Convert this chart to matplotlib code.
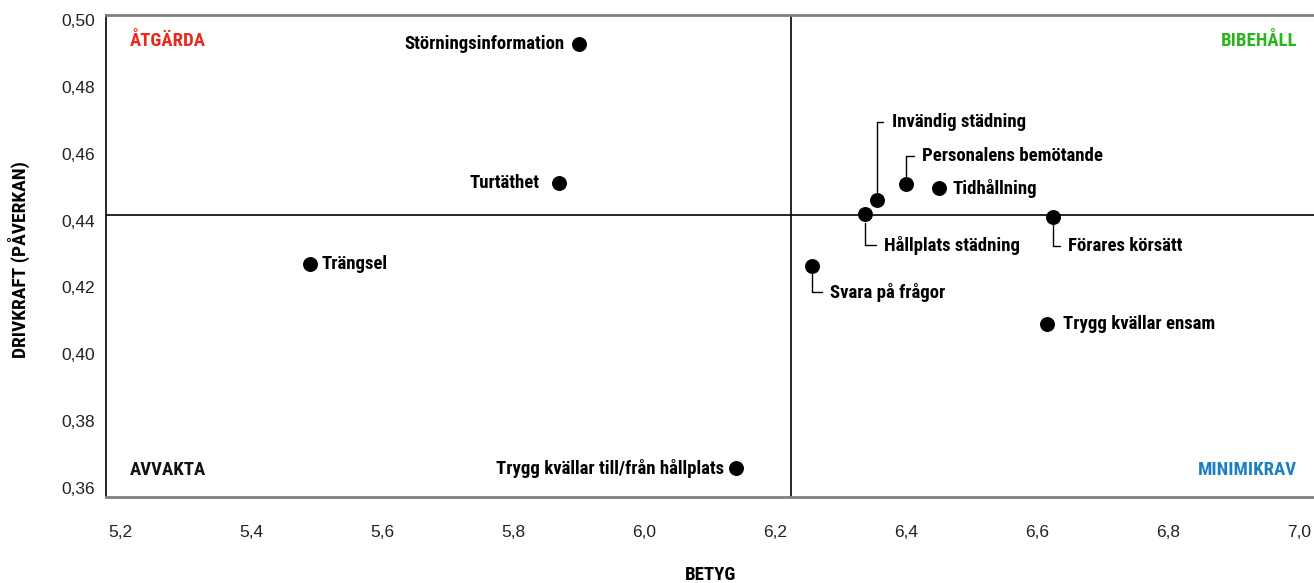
import matplotlib
matplotlib.use("Agg")
import matplotlib.pyplot as plt

# ── data ─────────────────────────────────────────────
labels = [
    "Störningsinformation", "Turtäthet", "Trängsel",
    "Trygg kvällar till/från hållplats", "Hållplats städning",
    "Invändig städning", "Personalens bemötande", "Tidhållning",
    "Förares körsätt", "Svara på frågor", "Trygg kvällar ensam",
]
betyg = [5.90, 5.87, 5.49, 6.14, 6.338, 6.355, 6.40, 6.45, 6.625, 6.257, 6.615]
drivkraft = [0.4928, 0.4512, 0.4269, 0.3659, 0.4419, 0.4461, 0.4509,
             0.4497, 0.4412, 0.4264, 0.4090]

x_mid = 6.225
y_mid = 0.4418

x_ticks = [5.2, 5.4, 5.6, 5.8, 6.0, 6.2, 6.4, 6.6, 6.8, 7.0]
y_ticks = [0.36, 0.38, 0.40, 0.42, 0.44, 0.46, 0.48, 0.50]

quadrants = [
    ("ÅTGÄRDA", "#e8291c"),
    ("BIBEHÅLL", "#2bb51c"),
    ("AVVAKTA", "#111111"),
    ("MINIMIKRAV", "#1b7fc3"),
]

# ── style: label offsets in pixels (dx, dy, align, leader) ──
PX = 0.72  # px -> pt at dpi 100
offsets = {
    "Störningsinformation": (-14, 0, "right", False),
    "Turtäthet": (-19, 0, "right", False),
    "Trängsel": (12, 0, "left", False),
    "Trygg kvällar till/från hållplats": (-12, 0, "right", False),
    "Hållplats städning": (19, -31, "left", True),
    "Invändig städning": (15, 78, "left", True),
    "Personalens bemötande": (16, 28, "left", True),
    "Tidhållning": (14, 0, "left", False),
    "Förares körsätt": (15, -29, "left", True),
    "Svara på frågor": (18, -26, "left", True),
    "Trygg kvällar ensam": (16, 0, "left", False),
}

FONT = ["Roboto Condensed", "DejaVu Sans"]
TICK_FONT = ["Liberation Sans", "DejaVu Sans"]
plt.rcParams["font.family"] = FONT

fig = plt.figure(figsize=(13.14, 5.83), dpi=100)
ax = fig.add_axes([106 / 1314, 1 - 497 / 583, 1 - 106 / 1314, 482 / 583])

# kvadrantlinjer
ax.axvline(x_mid, color="black", lw=1.2, zorder=1)
ax.axhline(y_mid, color="black", lw=1.2, zorder=1)

ax.scatter(betyg, drivkraft, s=95, color="black", zorder=3)

for name, bx, dy_val in zip(labels, betyg, drivkraft):
    dx, dy, ha, leader = offsets[name]
    kw = {}
    if leader:
        kw["arrowprops"] = dict(arrowstyle="-", color="black", lw=1.0,
                                shrinkA=4, shrinkB=6, relpos=(0, 0.5),
                                connectionstyle="angle,angleA=0,angleB=90,rad=0")
    ax.annotate(name, xy=(bx, dy_val), xytext=(dx * PX, dy * PX),
                textcoords="offset points", ha=ha, va="center",
                fontsize=13.5, fontweight="bold", **kw)

# quadrant labels
qpos = [(0.02, 0.946, "left"), (0.986, 0.946, "right"),
        (0.02, 0.056, "left"), (0.986, 0.056, "right")]
for (txt, col), (qx, qy, ha) in zip(quadrants, qpos):
    ax.text(qx, qy, txt, transform=ax.transAxes, ha=ha, va="center",
            color=col, fontsize=13.5, fontweight="bold")

ax.set_xlim(5.1786, 7.0229)
ax.set_ylim(0.3573, 0.5015)
ax.set_xticks(x_ticks)
ax.set_xticklabels([f"{v:.1f}".replace(".", ",") for v in x_ticks],
                   family=TICK_FONT)
ax.set_yticks(y_ticks)
ax.set_yticklabels([f"{v:.2f}".replace(".", ",") for v in y_ticks],
                   family=TICK_FONT)
ax.tick_params(axis="both", length=0, labelsize=12.5, colors="#222222")
ax.tick_params(axis="x", pad=20)
ax.tick_params(axis="y", pad=8)

ax.spines["right"].set_visible(False)
ax.spines["top"].set_color("#808080")
ax.spines["top"].set_linewidth(2)
ax.spines["bottom"].set_color("#808080")
ax.spines["bottom"].set_linewidth(2)
ax.spines["left"].set_color("black")
ax.spines["left"].set_linewidth(1.2)

fig.text(711 / 1314, 1 - 575 / 583, "BETYG", ha="center", va="center",
         fontsize=13.5, fontweight="bold")
fig.text(19 / 1314, 1 - 260 / 583, "DRIVKRAFT (PÅVERKAN)", ha="center",
         va="center", rotation=90, fontsize=14, fontweight="bold")

fig.savefig("out.png", dpi=100)
